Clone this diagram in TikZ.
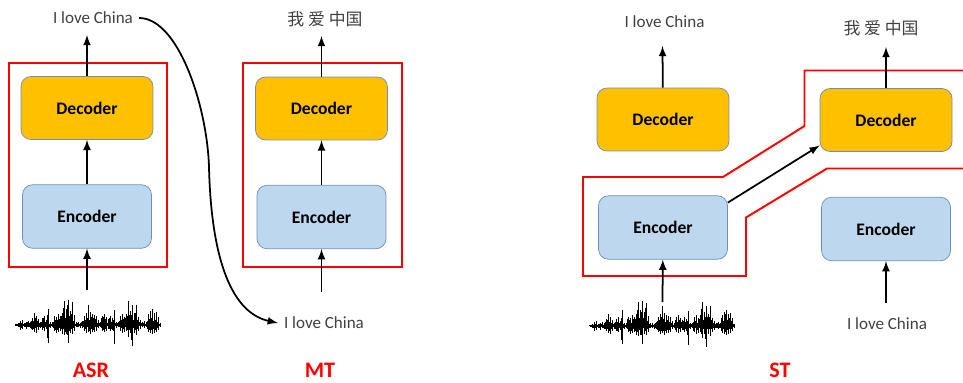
\documentclass[tikz,border=0pt]{standalone}
\usepackage{fontspec}
\setmainfont{Carlito}
\newfontfamily\cjk{Noto Sans CJK SC}
\usepackage{xcolor}
\usetikzlibrary{calc, positioning}

\definecolor{decfill}{HTML}{FFC000}
\definecolor{encfill}{HTML}{BDD7EE}
\definecolor{boxline}{HTML}{6C8EBF}
\definecolor{txtgray}{HTML}{404040}

\tikzset{
  decbox/.style={draw=boxline, fill=decfill, rounded corners=0.2cm, minimum width=2.64cm, minimum height=1.26cm, font=\bfseries\fontsize{10}{12}\selectfont},
  encbox/.style={draw=boxline, fill=encfill, rounded corners=0.2cm, minimum width=2.58cm, minimum height=1.27cm, font=\bfseries\fontsize{10}{12}\selectfont},
  txtlabel/.style={text=txtgray, font=\fontsize{9.7}{12}\selectfont},
  zhlabel/.style={text=txtgray, font=\cjk\fontsize{9.6}{12}\selectfont},
  tasklabel/.style={text=red, inner sep=0pt, font=\bfseries\fontsize{12.6}{14}\selectfont},
  redline/.style={draw=red, line width=1.1pt},
  flow/.style={->, >=latex, line width=1pt},
  waveform/.pic={
    \draw[line width=0.6pt] (-72,0) -- (72,0);
    \foreach \x/\u/\d in {-72/1/1,-70/2/2,-68/4/5,-66/5/4,-64/2/2,-62/3/4,-60/4/2,-58/3/3,-56/7/5,-54/12/7,-52/9/8,-50/6/5,-48/3/3,-46/7/5,-44/9/6,-42/5/4,-40/16/18,-38/3/3,-36/3/2,-34/9/6,-32/8/8,-30/11/7,-28/9/6,-26/12/9,-24/24/10,-22/16/9,-20/25/18,-18/14/8,-16/23/9,-14/10/6,-12/3/2,-10/3/2,-8/2/3,-6/4/3,-4/9/6,-2/12/8,0/20/7,2/13/9,4/11/7,6/10/7,8/9/6,10/5/3,12/3/2,14/9/6,16/11/7,18/8/6,20/6/4,22/9/6,24/7/5,26/15/19,28/3/3,30/3/2,32/9/6,34/11/8,36/8/7,38/11/6,40/24/12,42/14/8,44/20/21,46/12/8,48/20/10,50/8/6,52/5/4,54/3/2,56/4/3,58/3/2,60/11/7,62/14/8,64/16/9,66/12/8,68/13/7,70/8/5,72/2/2}{
      \draw[line width=0.55pt] (\x,-\u) -- (\x,\d);
      \draw[line width=0.55pt] (\x+0.8,-0.5*\u-0.5*rnd*\u) -- (\x+0.8,0.5*\d+0.4*rnd*\d);
      \draw[line width=0.55pt] (\x-0.8,-0.3*\u-0.5*rnd*\u) -- (\x-0.8,0.3*\d+0.5*rnd*\d);
    }
  }
}

\begin{document}
\begin{tikzpicture}[x=0.02cm, y=-0.02cm]
\useasboundingbox (0,0) rectangle (963,382);
\pgfmathsetseed{7}

% Red frames of ASR and MT:
\draw[redline] (9,63) rectangle (167,267);
\draw[redline] (243,63) rectangle (402,267);

% Red frame of ST, open on the right:
\draw[redline] (963,70.5) -- (804.5,70.5) -- (804.5,126) -- (723,177) -- (583,177) -- (583,276) -- (746,276) -- (746,217.5) -- (827,168.5) -- (963,168.5);

% ASR model:
\node[decbox] (asrdec) at (87,108) {Decoder};
\node[encbox] (asrenc) at (87,216.5) {Encoder};
\node[txtlabel] (asrout) at (93,18) {I love China};
\pic at (88,325) {waveform};
\coordinate (asrin) at (87,290);
\coordinate (asrtop) at (87,35);
\draw[flow] (asrin) -- (asrenc);
\draw[flow] (asrenc) -- (asrdec);
\draw[flow] (asrdec) -- (asrtop);
\node[tasklabel] (asrname) at (91,370) {ASR};

% MT model:
\node[decbox] (mtdec) at (321.5,108.5) {Decoder};
\node[encbox] (mtenc) at (321.5,217) {Encoder};
\node[zhlabel] (mtout) at (325,19) {我 爱 中国};
\node[txtlabel] (mtin) at (324,323) {I love China};
\coordinate (mtsrc) at (321.5,292);
\coordinate (mttop) at (321.5,36);
\draw[flow] (mtsrc) -- (mtenc);
\draw[flow] (mtenc) -- (mtdec);
\draw[flow] (mtdec) -- (mttop);
\node[tasklabel] (mtname) at (320,370) {MT};

% Curve from the ASR output to the MT input:
\draw[flow] (asrout.east) .. controls (178,18) and (207,105) .. (209,167) .. controls (211,250) and (228,312) .. (mtin.west);

% ST, left column:
\node[decbox] (stdecl) at (663,119.5) {Decoder};
\node[encbox] (stencl) at (663,227.5) {Encoder};
\node[txtlabel] (stoutl) at (664.5,22) {I love China};
\pic at (662,326) {waveform};
\coordinate (stinl) at (662.5,302);
\coordinate (sttopl) at (662.5,46);
\draw[flow] (stinl) -- (stencl);
\draw[flow] (stdecl) -- (sttopl);

% ST, right column:
\node[decbox] (stdecr) at (886,120) {Decoder};
\node[encbox] (stencr) at (886,229) {Encoder};
\node[zhlabel] (stoutr) at (881,28) {我 爱 中国};
\node[txtlabel] (stinr) at (887,324) {I love China};
\coordinate (stsrcr) at (886,303);
\coordinate (sttopr) at (886,47);
\draw[flow] (stsrcr) -- (stencr);
\draw[flow] (stdecr) -- (sttopr);

% Encoder of the left column to decoder of the right column:
\draw[flow] (stencl.21) -- (stdecr.201);
\node[tasklabel] (stname) at (780,370) {ST};
\end{tikzpicture}
\end{document}
